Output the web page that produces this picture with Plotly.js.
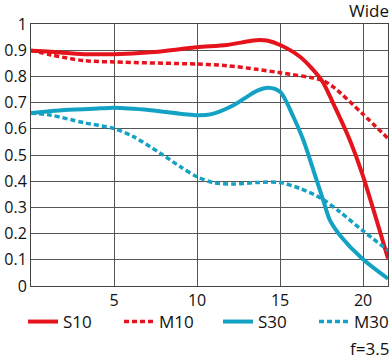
<!DOCTYPE html>
<html>
<head>
<meta charset="utf-8">
<script src="https://cdn.plot.ly/plotly-3.0.1.min.js"></script>
<style>html,body{margin:0;padding:0;background:#fff;}#chart{width:392px;height:360px;}</style>
</head>
<body>
<div id="chart"></div>
<script>
// Data
const s10X = [0, 1.2, 3.2, 5, 7.2, 10, 11.8, 13.2, 13.8, 14.2, 15, 16.2, 17.5, 18.2, 19.2, 19.94, 21.5];
const s10Y = [0.898, 0.894, 0.885, 0.885, 0.892, 0.911, 0.92, 0.935, 0.939, 0.937, 0.92, 0.875, 0.786, 0.697, 0.557, 0.43, 0.105];

const m10X = [0, 1.2, 3.2, 5, 10, 11.8, 13.6, 15, 17.5, 18.2, 19.94, 21.5];
const m10Y = [0.9, 0.882, 0.86, 0.855, 0.847, 0.841, 0.827, 0.814, 0.786, 0.76, 0.659, 0.563];

const s30X = [0, 2, 4.2, 5, 7.2, 10, 10.8, 12.2, 13, 13.6, 14.3, 15, 15.8, 16.4, 17.2, 17.6, 18, 18.6, 19.94, 21.5];
const s30Y = [0.66, 0.672, 0.678, 0.68, 0.671, 0.652, 0.655, 0.69, 0.722, 0.745, 0.757, 0.741, 0.646, 0.557, 0.404, 0.327, 0.251, 0.194, 0.105, 0.028];

const m30X = [0, 1.2, 3.2, 5, 6.2, 7.8, 9, 10, 11, 12.2, 13.6, 15, 16.2, 17.5, 18.6, 19.94, 21.5];
const m30Y = [0.66, 0.652, 0.623, 0.601, 0.569, 0.506, 0.455, 0.417, 0.394, 0.389, 0.395, 0.395, 0.372, 0.334, 0.283, 0.213, 0.136];

const seriesNames = ["S10", "M10", "S30", "M30"];
const xTickVals = [5, 10, 15, 20];
const titleText = "Wide";
const noteText = "f=3.5";

const red = "#e5141c";
const cyan = "#14a2c4";

const traces = [
  {x: s10X, y: s10Y, name: seriesNames[0], legend: "legend", mode: "lines", line: {color: red, width: 4, shape: "spline", smoothing: 0.8}},
  {x: m10X, y: m10Y, name: seriesNames[1], legend: "legend2", mode: "lines", line: {color: red, width: 3.5, dash: "5px,3px", shape: "spline", smoothing: 0.8}},
  {x: s30X, y: s30Y, name: seriesNames[2], legend: "legend3", mode: "lines", line: {color: cyan, width: 4, shape: "spline", smoothing: 0.8}},
  {x: m30X, y: m30Y, name: seriesNames[3], legend: "legend4", mode: "lines", line: {color: cyan, width: 3.5, dash: "5px,3px", shape: "spline", smoothing: 0.8}}
];

const font = {family: "Open Sans, Noto Sans, sans-serif", color: "#111"};

function legendAt(px) {
  return {
    orientation: "h", xref: "container", yref: "container",
    x: px / 392, xanchor: "left", y: 1 - 322 / 360, yanchor: "middle",
    font: Object.assign({size: 17}, font), bgcolor: "rgba(0,0,0,0)", borderwidth: 0
  };
}

const layout = {
  width: 392, height: 360,
  margin: {l: 31, r: 4, t: 24, b: 74},
  paper_bgcolor: "#fff", plot_bgcolor: "#fff",
  font: Object.assign({size: 16}, font),
  showlegend: true,
  xaxis: {
    range: [0, 21.5], tickvals: xTickVals, ticks: "",
    showgrid: true, gridcolor: "#555", gridwidth: 1,
    showline: true, linecolor: "#444", linewidth: 1, mirror: true,
    zeroline: false, tickfont: Object.assign({size: 16}, font), fixedrange: true
  },
  yaxis: {
    range: [0, 1], dtick: 0.1, tick0: 0, ticks: "",
    showgrid: true, gridcolor: "#555", gridwidth: 1,
    showline: true, linecolor: "#444", linewidth: 1, mirror: true,
    zeroline: false, tickfont: Object.assign({size: 16}, font), fixedrange: true
  },
  legend: legendAt(23),
  legend2: legendAt(119),
  legend3: legendAt(218),
  legend4: legendAt(314),
  annotations: [
    {text: titleText, xref: "paper", yref: "paper", x: 1.008, y: 1.053, xanchor: "right", yanchor: "middle", showarrow: false, font: Object.assign({size: 17}, font)},
    {text: noteText, xref: "paper", yref: "paper", x: 1.008, y: -0.24, xanchor: "right", yanchor: "middle", showarrow: false, font: Object.assign({size: 17}, font)}
  ]
};

Plotly.newPlot("chart", traces, layout, {staticPlot: true, displayModeBar: false});
</script>
</body>
</html>
